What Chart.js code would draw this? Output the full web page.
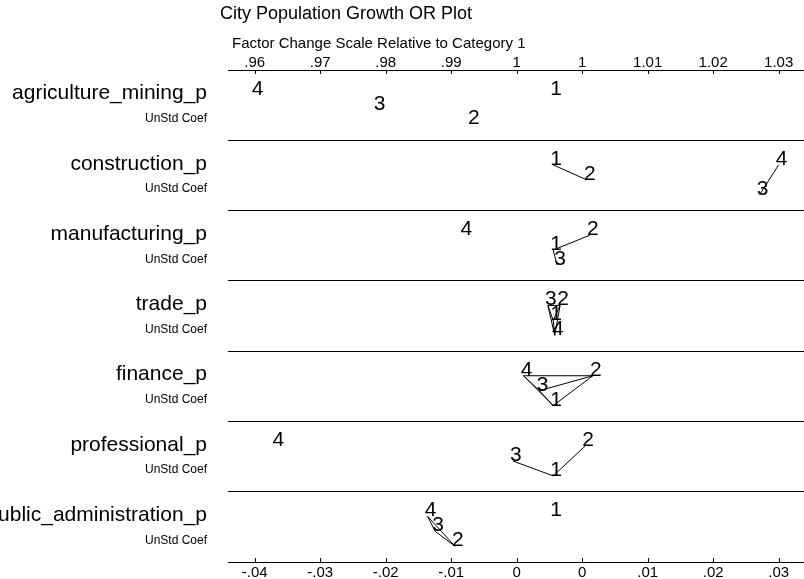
<!DOCTYPE html>
<html>
<head>
<meta charset="utf-8">
<script src="https://cdn.jsdelivr.net/npm/chart.js@4.4.1/dist/chart.umd.min.js"></script>
<style>
  html, body { margin: 0; padding: 0; background: #fff; }
  canvas { display: block; }
</style>
</head>
<body>
<canvas id="orplot" width="804" height="579"></canvas>
<script>
// ---- data -------------------------------------------------------------
const chartTitle = 'City Population Growth OR Plot';
const axisTitle = 'Factor Change Scale Relative to Category 1';
const subLabel = 'UnStd Coef';

const variables = ['agriculture_mining_p', 'construction_p', 'manufacturing_p', 'trade_p',
                   'finance_p', 'professional_p', 'public_administration_p'];
const categories = ['1', '2', '3', '4'];

// unstandardized coefficients relative to category 1, one entry per variable
const coefCat1 = [0, 0, 0, 0, 0, 0, 0];
const coefCat2 = [-0.0108, 0.0044, 0.0048, 0.0009, 0.0052, 0.0042, -0.0129];
const coefCat3 = [-0.0232, 0.0271, 0.0005, -0.0007, -0.0018, -0.0053, -0.0155];
const coefCat4 = [-0.0392, 0.0296, -0.0118, 0.0002, -0.0039, -0.0365, -0.0165];

// vertical stagger row of each category label inside its variable band
const rowCat1 = [0, 0, 1, 1, 2, 2, 0];
const rowCat2 = [2, 1, 0, 0, 0, 0, 2];
const rowCat3 = [1, 2, 2, 0, 1, 1, 1];
const rowCat4 = [0, 0, 0, 2, 0, 0, 0];

// category pairs joined by a line (difference not significant)
const linkedPairs = [
  [],
  [[1, 2], [3, 4]],
  [[1, 2], [1, 3]],
  [[1, 2], [1, 3], [1, 4], [2, 3], [2, 4], [3, 4]],
  [[1, 2], [1, 3], [1, 4], [2, 3], [2, 4], [3, 4]],
  [[1, 2], [1, 3]],
  [[2, 3], [2, 4], [3, 4]]
];

const bottomTickLabels = ['-.04', '-.03', '-.02', '-.01', '0', '0', '.01', '.02', '.03'];
const topTickLabels = ['.96', '.97', '.98', '.99', '1', '1', '1.01', '1.02', '1.03'];

// ---- derived structures ----------------------------------------------
const coefByCat = [coefCat1, coefCat2, coefCat3, coefCat4];
const rowByCat = [rowCat1, rowCat2, rowCat3, rowCat4];
const rowOffset = r => 0.35 + 0.2125 * r;

// nine evenly spaced ticks from the smallest to the largest coefficient
const allCoefs = coefByCat.flat();
const cMin = Math.min(...allCoefs);
const cMax = Math.max(...allCoefs);
const tickStep = (cMax - cMin) / (bottomTickLabels.length - 1);
const tickValues = bottomTickLabels.map((_, i) => cMin + i * tickStep);
const xMin = cMin - 0.407 * tickStep;
const xMax = cMax + 0.387 * tickStep;

const pointOf = (vi, ci) => ({ x: coefByCat[ci][vi], y: vi + rowOffset(rowByCat[ci][vi]), cat: categories[ci] });

const labelPoints = [];
variables.forEach((_, vi) => categories.forEach((_, ci) => labelPoints.push(pointOf(vi, ci))));

const linkDatasets = [];
linkedPairs.forEach((pairs, vi) => pairs.forEach(([a, b]) => {
  linkDatasets.push({
    data: [pointOf(vi, a - 1), pointOf(vi, b - 1)],
    showLine: true,
    borderColor: '#000',
    borderWidth: 1,
    pointRadius: 0,
    pointHoverRadius: 0,
    fill: false
  });
}));

// y ticks: band separators at integers, variable name and subtitle inside each band
const yTicks = [];
for (let i = 0; i <= variables.length; i++) {
  yTicks.push({ value: i });
  if (i < variables.length) {
    yTicks.push({ value: i + 0.334 });
    yTicks.push({ value: i + 0.693 });
  }
}
const tickKind = v => {
  const f = v - Math.floor(v);
  if (f < 0.01) return 'sep';
  return f < 0.5 ? 'name' : 'sub';
};

const FONT = '"Liberation Sans", Arial, Helvetica, sans-serif';
Chart.defaults.font.family = FONT;
Chart.defaults.color = '#000';

// ---- plugins ----------------------------------------------------------
const categoryLabels = {
  id: 'categoryLabels',
  afterDatasetsDraw(chart) {
    const meta = chart.getDatasetMeta(0);
    const ctx = chart.ctx;
    ctx.save();
    ctx.font = '21px ' + FONT;
    ctx.fillStyle = '#000';
    ctx.textAlign = 'center';
    ctx.textBaseline = 'alphabetic';
    meta.data.forEach((el, i) => ctx.fillText(labelPoints[i].cat, el.x + 3, el.y));
    ctx.restore();
  }
};

const innerTicks = {
  id: 'innerTicks',
  afterDraw(chart) {
    const ctx = chart.ctx;
    const area = chart.chartArea;
    ctx.save();
    ctx.strokeStyle = '#000';
    ctx.lineWidth = 1;
    [['x', area.bottom, -4], ['xTop', area.top, 4]].forEach(([id, y0, len]) => {
      const scale = chart.scales[id];
      scale.ticks.forEach(t => {
        const px = Math.round(scale.getPixelForValue(t.value)) + 0.5;
        ctx.beginPath();
        ctx.moveTo(px, y0);
        ctx.lineTo(px, y0 + len);
        ctx.stroke();
      });
    });
    ctx.restore();
  }
};

const headerText = {
  id: 'headerText',
  afterDraw(chart) {
    const ctx = chart.ctx;
    ctx.save();
    ctx.fillStyle = '#000';
    ctx.textAlign = 'left';
    ctx.textBaseline = 'middle';
    ctx.font = '18px ' + FONT;
    ctx.fillText(chartTitle, 220, 14);
    ctx.font = '15px ' + FONT;
    ctx.fillText(axisTitle, 232, 44);
    ctx.restore();
  }
};

// ---- chart ------------------------------------------------------------
new Chart(document.getElementById('orplot'), {
  type: 'scatter',
  data: {
    datasets: [
      { data: labelPoints, pointRadius: 0, pointHoverRadius: 0, showLine: false },
      ...linkDatasets
    ]
  },
  options: {
    responsive: false,
    animation: false,
    events: [],
    layout: { padding: 0 },
    plugins: { legend: { display: false }, tooltip: { enabled: false }, title: { display: false } },
    scales: {
      x: {
        type: 'linear',
        position: 'bottom',
        min: xMin,
        max: xMax,
        afterBuildTicks: s => { s.ticks = tickValues.map(v => ({ value: v })); },
        afterFit: s => { s.height = 17; s.paddingLeft = 0; s.paddingRight = 0; },
        ticks: {
          autoSkip: false,
          maxRotation: 0,
          padding: 2,
          font: { size: 15 },
          color: '#000',
          callback: (v, i) => bottomTickLabels[i]
        },
        grid: { display: true, drawOnChartArea: false, drawTicks: false },
        border: { display: true, color: '#000', width: 1 }
      },
      xTop: {
        type: 'linear',
        position: 'top',
        min: xMin,
        max: xMax,
        afterBuildTicks: s => { s.ticks = tickValues.map(v => ({ value: v })); },
        afterFit: s => { s.height = 70; s.paddingLeft = 0; s.paddingRight = 0; },
        ticks: {
          autoSkip: false,
          maxRotation: 0,
          padding: -2,
          font: { size: 15 },
          color: '#000',
          callback: (v, i) => topTickLabels[i]
        },
        grid: { display: true, drawOnChartArea: false, drawTicks: false },
        border: { display: true, color: '#000', width: 1 }
      },
      y: {
        type: 'linear',
        position: 'left',
        min: 0,
        max: variables.length,
        reverse: true,
        afterBuildTicks: s => { s.ticks = yTicks.map(t => ({ value: t.value })); },
        afterFit: s => { s.width = 228; s.paddingTop = 0; s.paddingBottom = 0; },
        ticks: {
          autoSkip: false,
          padding: 21,
          color: '#000',
          font: ctx => ({ size: ctx.tick && tickKind(ctx.tick.value) === 'sub' ? 12 : 21 }),
          callback: v => {
            const k = tickKind(v);
            if (k === 'sep') return '';
            return k === 'name' ? variables[Math.floor(v)] : subLabel;
          }
        },
        grid: {
          drawTicks: false,
          color: ctx => (ctx.tick && tickKind(ctx.tick.value) === 'sep') ? '#000' : 'rgba(0,0,0,0)',
          lineWidth: 1
        },
        border: { display: false }
      }
    }
  },
  plugins: [categoryLabels, innerTicks, headerText]
});
</script>
</body>
</html>
